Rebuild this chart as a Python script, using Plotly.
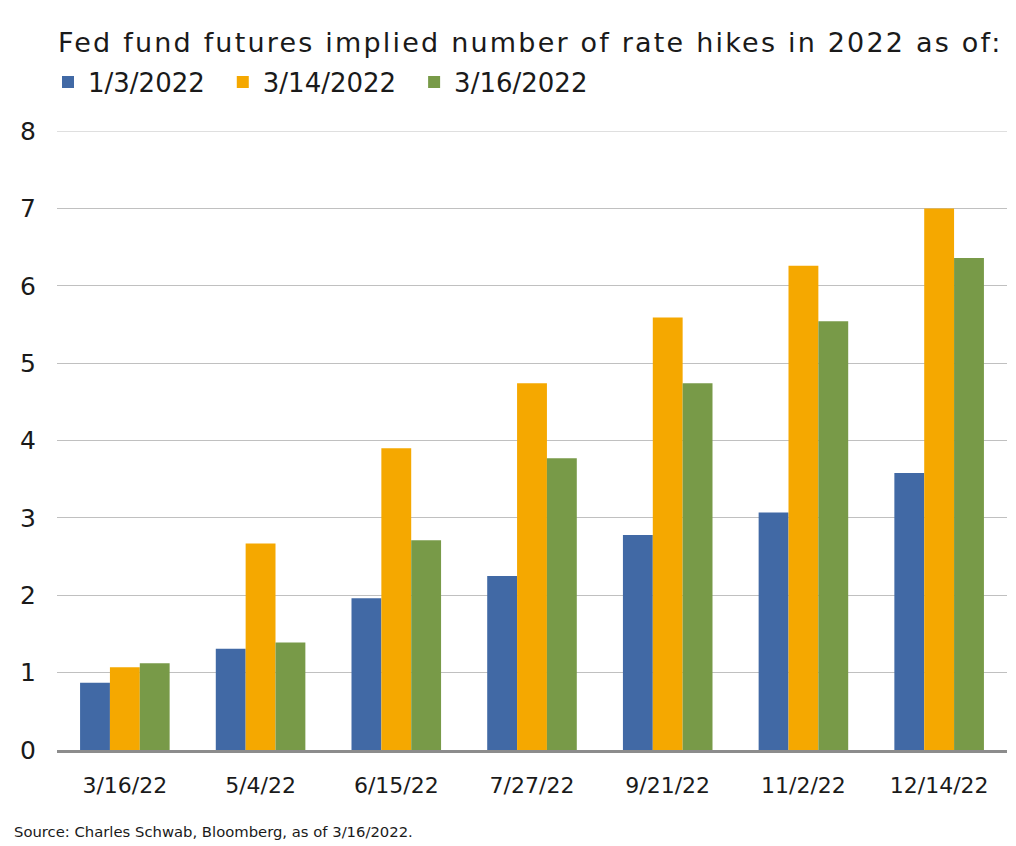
import plotly.graph_objects as go

categories = ["3/16/22", "5/4/22", "6/15/22", "7/27/22", "9/21/22", "11/2/22", "12/14/22"]
series_names = ["1/3/2022", "3/14/2022", "3/16/2022"]
vals_jan3 = [0.87, 1.31, 1.96, 2.25, 2.78, 3.07, 3.58]
vals_mar14 = [1.07, 2.67, 3.90, 4.74, 5.59, 6.26, 7.00]
vals_mar16 = [1.12, 1.39, 2.71, 3.77, 4.74, 5.54, 6.36]
colors = ["#4169A5", "#F5A800", "#789A48"]
y_ticks = [0, 1, 2, 3, 4, 5, 6, 7, 8]

FONT = "DejaVu Sans"
OFF = 8  # page body margin
W, H = 1000, 838
L = 57 - OFF
T = 131 - OFF
R = W - (1007 - OFF)
B = H - (750 - OFF)
PW, PH = W - L - R, H - T - B

def px_x(px):
    return (px - OFF - L) / PW

def px_y(py):
    return (H - B - (py - OFF)) / PH

fig = go.Figure()
for name, vals, c in zip(series_names, [vals_jan3, vals_mar14, vals_mar16], colors):
    fig.add_trace(go.Bar(x=categories, y=vals, name=name + "\u2002",
                         marker=dict(color=c, line=dict(width=0))))

fig.update_layout(
    width=W, height=H,
    paper_bgcolor="white", plot_bgcolor="white",
    margin=dict(l=L, r=R, t=T, b=B),
    barmode="group", bargap=0.34, bargroupgap=0,
    font=dict(family=FONT, color="#1a1a1a"),
    showlegend=True,
    legend=dict(orientation="h", xref="container", yref="container",
                x=(48 - OFF) / W, y=1 - (82 - OFF) / H,
                xanchor="left", yanchor="middle", font=dict(size=26, family=FONT, color="#1a1a1a"),
                itemwidth=30, traceorder="normal", bgcolor="rgba(0,0,0,0)"),
    annotations=[
        dict(text='<span style="letter-spacing:2.2px">Fed fund futures implied number of rate hikes in 2022 as of:</span>',
             xref="paper", yref="paper",
             x=px_x(56), y=px_y(42), xanchor="left", yanchor="middle", showarrow=False,
             font=dict(size=27, family=FONT, color="#1a1a1a")),
        dict(text="Source: Charles Schwab, Bloomberg, as of 3/16/2022.", xref="paper", yref="paper",
             x=px_x(12), y=px_y(831), xanchor="left", yanchor="middle", showarrow=False,
             font=dict(size=14.8, family=FONT, color="#1a1a1a")),
    ],
    shapes=[dict(type="line", xref="paper", yref="y", x0=0, x1=1, y0=y_ticks[-1], y1=y_ticks[-1],
                 line=dict(color="#C0C0C0", width=1), layer="below")],
)
fig.update_yaxes(range=[0, 8], tickvals=y_ticks, showgrid=True, gridcolor="#C0C0C0", gridwidth=1,
                 zeroline=False, showline=False, ticks="", tickfont=dict(size=25, family=FONT, color="#1a1a1a"),
                 ticklabelstandoff=20)
fig.update_xaxes(showline=True, linecolor="#8C8C8C", linewidth=3, ticks="",
                 tickfont=dict(size=22, family=FONT, color="#1a1a1a"), ticklabelstandoff=14)

fig.write_html("out.html")
